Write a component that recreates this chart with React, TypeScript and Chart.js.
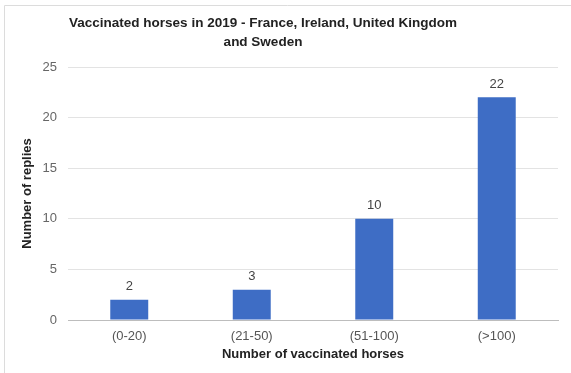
import React, { useEffect, useRef } from "react";
import { Chart, registerables } from "chart.js";

Chart.register(...registerables);

const categories = ["(0-20)", "(21-50)", "(51-100)", "(>100)"];
const replies = [2, 3, 10, 22];
const yTicks = [0, 5, 10, 15, 20, 25];
const titleLines = ["Vaccinated horses in 2019 - France, Ireland, United Kingdom", "and Sweden"];
const xTitle = "Number of vaccinated horses";
const yTitle = "Number of replies";

const FONT = "'Liberation Sans', Arial, sans-serif";

export default function App() {
  const ref = useRef<HTMLCanvasElement | null>(null);
  useEffect(() => {
    document.body.style.margin = "0";
    const canvas = ref.current;
    if (!canvas) return;
    const decor = {
      id: "decor",
      beforeDraw(chart: any) {
        const ctx = chart.ctx;
        ctx.save();
        ctx.strokeStyle = "#dcdcdc";
        ctx.lineWidth = 1;
        ctx.beginPath();
        ctx.moveTo(4.5, 373);
        ctx.lineTo(4.5, 5.5);
        ctx.lineTo(571, 5.5);
        ctx.stroke();
        ctx.fillStyle = "#222";
        ctx.font = `bold 13.5px ${FONT}`;
        ctx.textAlign = "center";
        ctx.textBaseline = "middle";
        titleLines.forEach((t, i) => ctx.fillText(t, 263, 23 + i * 19));
        ctx.restore();
      },
      afterDatasetsDraw(chart: any) {
        const ctx = chart.ctx;
        const meta = chart.getDatasetMeta(0);
        ctx.save();
        ctx.fillStyle = "#444";
        ctx.font = `13px ${FONT}`;
        ctx.textAlign = "center";
        ctx.textBaseline = "middle";
        meta.data.forEach((bar: any, i: number) => {
          ctx.fillText(String(replies[i]), bar.x, bar.y - 13);
        });
        ctx.restore();
      },
    };
    const chart = new Chart(canvas, {
      type: "bar",
      data: {
        labels: categories,
        datasets: [
          {
            data: replies,
            backgroundColor: "#3e6dc5",
            barPercentage: 0.31,
            categoryPercentage: 1,
          },
        ],
      },
      options: {
        animation: false,
        responsive: false,
        layout: { padding: { top: 67, right: 13, left: 0, bottom: 0 } },
        plugins: { legend: { display: false }, tooltip: { enabled: false }, title: { display: false } },
        scales: {
          x: {
            grid: { display: false, drawTicks: false },
            border: { color: "#bdbdbd" },
            ticks: { color: "#555", font: { family: FONT, size: 13 }, padding: 9 },
            title: {
              display: true,
              text: xTitle,
              color: "#222",
              font: { family: FONT, size: 13, weight: "bold" },
              padding: { top: 0, bottom: 11 },
            },
            afterFit(scale: any) {
              scale.height = 53;
            },
          },
          y: {
            min: 0,
            max: 25,
            afterBuildTicks(scale: any) {
              scale.ticks = yTicks.map((v) => ({ value: v }));
            },
            grid: { color: "#e3e3e3", drawTicks: false },
            border: { display: false },
            ticks: { color: "#666", font: { family: FONT, size: 13 }, padding: 11 },
            title: {
              display: true,
              text: yTitle,
              color: "#222",
              font: { family: FONT, size: 13, weight: "bold" },
              padding: { top: 20, bottom: 0 },
            },
            afterFit(scale: any) {
              scale.width = 68;
            },
          },
        },
      },
      plugins: [decor],
    });
    return () => chart.destroy();
  }, []);
  return <canvas ref={ref} width={571} height={373} style={{ display: "block" }} />;
}
